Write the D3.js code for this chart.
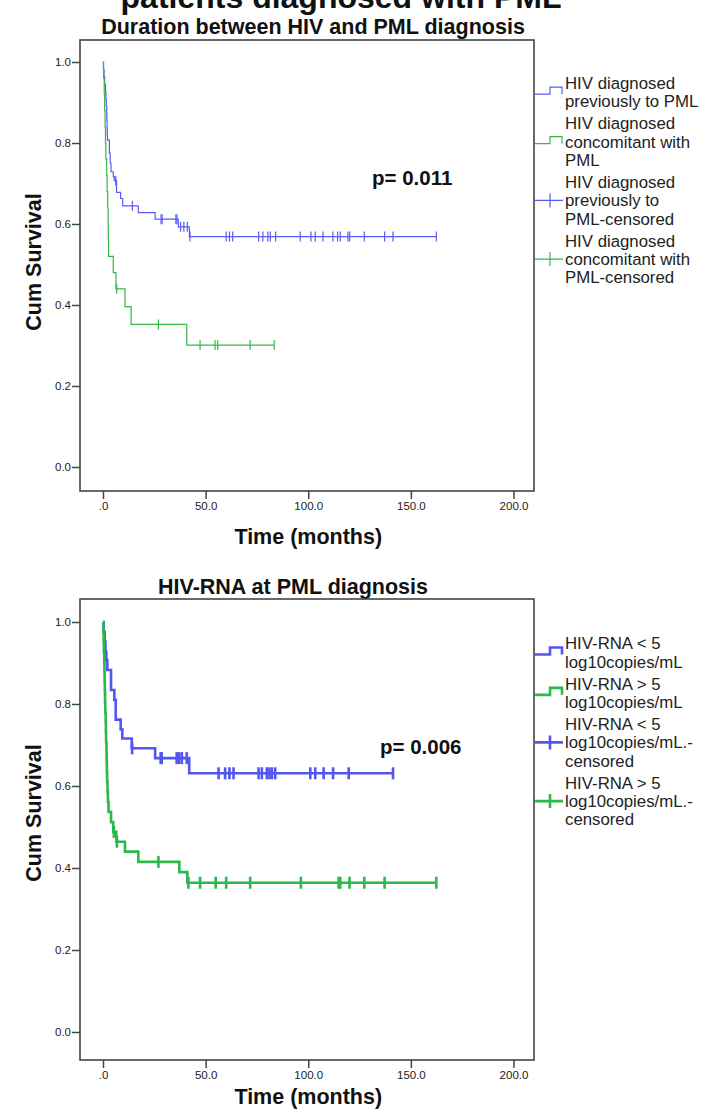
<!DOCTYPE html>
<html>
<head>
<meta charset="utf-8">
<script src="https://cdn.jsdelivr.net/npm/d3@7"></script>
<style>
	body{margin:0;background:#fff;}
	svg{display:block;font-family:"Liberation Sans",Arial,sans-serif;}
	.tick text{fill:#222;}
</style>
</head>
<body>
<svg id="chart" width="701" height="1110"></svg>
<script>
// --- data: top panel (duration between HIV and PML diagnosis)
const prevTimes = [0.2,0.5,0.8,1.2,1.4,1.6,1.8,1.9,2.0,2.1,2.2,3.1,3.5,3.9,5.0,5.5,6.6,8.6,9.6,17.2,25.4,36.7,42.1];
const prevSurv = [.982,.964,.945,.927,.909,.891,.873,.855,.836,.818,.807,.775,.750,.729,.717,.707,.678,.663,.645,.628,.612,.593,.569];
const prevCensor = [6.2,14.3,28.3,28.8,35.5,36.0,37.8,39.4,41.1,42.4,60,61.6,63.2,75.8,77.9,80.3,81.5,84.1,96.1,101.3,103.4,107.2,112,114.3,115.6,119.3,120.2,127.3,137.2,141.3,162.4];
const concTimes = [0.3,0.6,0.8,1.0,1.2,1.4,1.8,2.0,2.3,2.5,2.6,2.7,5.0,6.3,10.7,13.7,40.8];
const concSurv = [.96,.92,.88,.84,.80,.76,.72,.68,.64,.60,.56,.52,.48,.44,.396,.352,.301];
const concCensor = [6.7,27,47.3,54.6,55.9,71.7,83.4];
const topLegend = [
	["HIV diagnosed","previously to PML"],
	["HIV diagnosed","concomitant with","PML"],
	["HIV diagnosed","previously to","PML-censored"],
	["HIV diagnosed","concomitant with","PML-censored"]
];

// --- data: bottom panel (HIV-RNA at PML diagnosis)
const lowTimes = [0.3,0.8,1.2,1.6,2.1,3.9,5.5,6.2,8.6,9.4,14.0,25.4,42.0];
const lowSurv = [.976,.952,.928,.907,.883,.834,.810,.762,.738,.716,.692,.668,.631];
const lowCensor = [14.2,28.1,28.6,35.9,37.1,38.4,40.8,56.3,59.5,61.6,63.6,75.8,77.4,79.8,81.1,82.3,83.9,101,103.4,107.5,112.1,119.7,141.3];
const highTimes = [0.1,0.3,0.4,0.6,0.7,0.8,0.9,1.0,1.1,1.3,1.4,1.5,1.7,1.8,1.9,2.0,2.2,2.4,2.7,3.9,5.0,6.5,10.7,17.2,37.2,41.1];
const highSurv = [.976,.951,.927,.902,.878,.854,.829,.805,.780,.756,.732,.707,.683,.659,.634,.610,.585,.561,.537,.512,.488,.464,.440,.415,.390,.364];
const highCensor = [5.3,6.8,27,41.6,47.3,54.9,60,71.7,96.4,114.8,115.6,120.1,127.3,137.2,162.4];
const bottomLegend = [
	["HIV-RNA < 5","log10copies/mL"],
	["HIV-RNA > 5","log10copies/mL"],
	["HIV-RNA < 5","log10copies/mL.-","censored"],
	["HIV-RNA > 5","log10copies/mL.-","censored"]
];

const xTicks = [0,50,100,150,200];
const yTicks = [0,0.2,0.4,0.6,0.8,1.0];

const svg = d3.select('#chart');

// main title, mostly cut off at the top of the picture
svg.append('text')
	.attr('x',341).attr('y',8)
	.attr('text-anchor','middle')
	.attr('font-weight','bold')
	.attr('font-size',32)
	.attr('fill','#111')
	.text('patients diagnosed with PML');

function survAt(times,surv,t){
	let s = 1;
	times.forEach((tt,i)=>{ if(tt<=t) s = surv[i]; });
	return s;
}

function drawPanel(cfg){
	const g = svg.append('g');
	const x = d3.scaleLinear().domain([0,200]).range([103,513.5]);
	const y = d3.scaleLinear().domain([0,1]).range([cfg.y0,cfg.y1]);

	g.append('text')
		.attr('x',cfg.titleX).attr('y',cfg.titleY)
		.attr('text-anchor','middle')
		.attr('font-weight','bold')
		.attr('font-size',21.5)
		.attr('fill','#111')
		.text(cfg.title);

	// frame
	g.append('rect')
		.attr('x',80).attr('y',cfg.top)
		.attr('width',454).attr('height',cfg.bottom-cfg.top)
		.attr('fill','none')
		.attr('stroke','#444')
		.attr('stroke-width',1.6);

	const yAxis = g.append('g')
		.attr('transform','translate(80,0)')
		.call(d3.axisLeft(y).tickValues(yTicks).tickFormat(d3.format('.1f')).tickSize(8).tickSizeOuter(0));
	yAxis.select('.domain').remove();
	yAxis.selectAll('.tick line').attr('stroke','#444').attr('stroke-width',1.5);
	yAxis.selectAll('.tick text').attr('font-size',11.5).attr('x',-9).attr('font-family','"Liberation Sans",Arial,sans-serif');

	const xAxis = g.append('g')
		.attr('transform','translate(0,'+cfg.bottom+')')
		.call(d3.axisBottom(x).tickValues(xTicks).tickFormat(d=>d===0?'.0':d3.format('.1f')(d)).tickSize(8).tickSizeOuter(0));
	xAxis.select('.domain').remove();
	xAxis.selectAll('.tick line').attr('stroke','#444').attr('stroke-width',1.5);
	xAxis.selectAll('.tick text').attr('font-size',11.5).attr('y',11).attr('font-family','"Liberation Sans",Arial,sans-serif');

	g.append('text')
		.attr('x',x(100)).attr('y',cfg.xlabY)
		.attr('text-anchor','middle')
		.attr('font-weight','bold')
		.attr('font-size',21.5)
		.attr('fill','#111')
		.text('Time (months)');

	g.append('text')
		.attr('transform','translate(41,'+cfg.ylabY+') rotate(-90)')
		.attr('text-anchor','middle')
		.attr('font-weight','bold')
		.attr('font-size',21.5)
		.attr('fill','#111')
		.text('Cum Survival');

	const line = d3.line()
		.x(d=>x(d[0]))
		.y(d=>y(d[1]))
		.curve(d3.curveStepAfter);

	cfg.series.forEach(s=>{
		const end = d3.max(s.censor);
		const pts = [[0,1]].concat(s.times.map((t,i)=>[t,s.surv[i]]));
		pts.push([end,s.surv[s.surv.length-1]]);
		g.append('path')
			.attr('d',line(pts))
			.attr('fill','none')
			.attr('stroke',s.color)
			.attr('stroke-width',cfg.lw);
		g.selectAll(null)
			.data(s.censor)
			.join('line')
				.attr('x1',d=>x(d)).attr('x2',d=>x(d))
				.attr('y1',d=>y(survAt(s.times,s.surv,d))-cfg.tick)
				.attr('y2',d=>y(survAt(s.times,s.surv,d))+cfg.tick)
				.attr('stroke',s.color)
				.attr('stroke-width',cfg.lw);
	});

	g.append('text')
		.attr('x',cfg.pX).attr('y',cfg.pY)
		.attr('font-weight','bold')
		.attr('font-size',20.5)
		.attr('fill','#111')
		.text(cfg.pText);

	// legend
	const lineH = 18.3, gap = 3.8;
	let cy = cfg.legendY;
	cfg.legend.forEach((lines,i)=>{
		const s = cfg.series[i%2];
		const lg = g.append('g');
		lg.selectAll('text')
			.data(lines)
			.join('text')
				.attr('x',565)
				.attr('y',(d,j)=>cy+j*lineH+6)
				.attr('font-size',16.8)
				.attr('fill','#222')
				.text(d=>d);
		const mid = cy + (lines.length-1)*lineH/2;
		if(i<2){
			lg.append('path')
				.attr('d','M535,'+(mid+2)+'H550V'+(mid-5)+'H562V'+(mid+2))
				.attr('fill','none').attr('stroke',s.color).attr('stroke-width',cfg.lw);
		}else{
			lg.append('path')
				.attr('d','M535,'+mid+'H563M550,'+(mid-7)+'V'+(mid+7))
				.attr('fill','none').attr('stroke',s.color).attr('stroke-width',cfg.lw);
		}
		cy += lines.length*lineH + gap;
	});
}

drawPanel({
	title:'Duration between HIV and PML diagnosis', titleX:313, titleY:34,
	top:40, bottom:491, y0:467, y1:62, ylabY:262, xlabY:544,
	lw:1.2, tick:5,
	pText:'p= 0.011', pX:372, pY:185,
	legendY:83, legend:topLegend,
	series:[
		{times:prevTimes,surv:prevSurv,censor:prevCensor,color:'#5a5af5'},
		{times:concTimes,surv:concSurv,censor:concCensor,color:'#3ab54a'}
	]
});

drawPanel({
	title:'HIV-RNA at PML diagnosis', titleX:293, titleY:594,
	top:599, bottom:1060, y0:1032, y1:622, ylabY:813, xlabY:1104,
	lw:2.6, tick:6,
	pText:'p= 0.006', pX:380, pY:754,
	legendY:643.3, legend:bottomLegend,
	series:[
		{times:lowTimes,surv:lowSurv,censor:lowCensor,color:'#5555f2'},
		{times:highTimes,surv:highSurv,censor:highCensor,color:'#2db84a'}
	]
});
</script>
</body>
</html>
